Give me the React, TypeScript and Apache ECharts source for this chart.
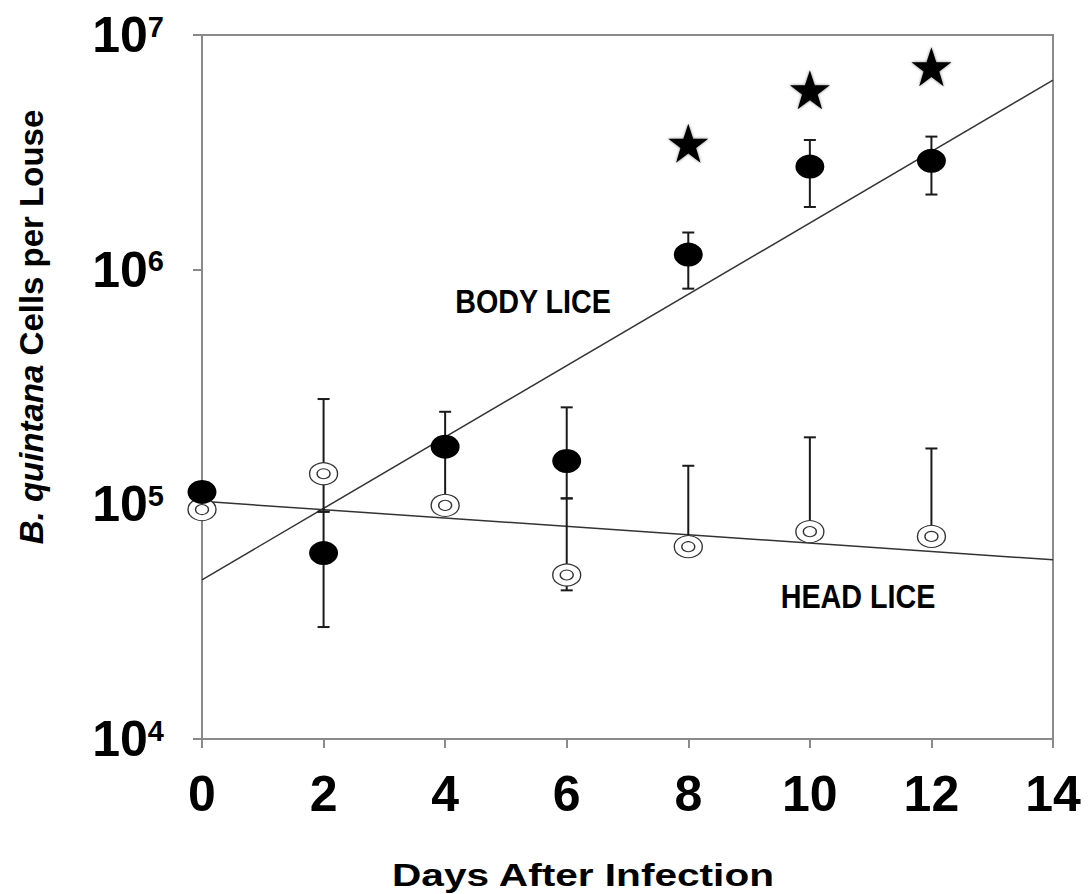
import React, { useEffect, useRef } from "react";
import * as echarts from "echarts";

const FONT = "'Liberation Sans', Arial, Helvetica, sans-serif";

// Days after infection
const days = [0, 2, 4, 6, 8, 10, 12];
// Body lice (filled circles)
const bodyLice = [1.13e5, 6.2e4, 1.76e5, 1.53e5, 1.16e6, 2.75e6, 2.91e6];
const bodyLow = [null, 3.0e4, 1.0e5, 1.06e5, 8.3e5, 1.85e6, 2.09e6];
const bodyHigh = [null, 9.3e4, 2.48e5, 2.59e5, 1.44e6, 3.57e6, 3.69e6];
// Head lice (open circles)
const headLice = [9.5e4, 1.35e5, 9.9e4, 5.0e4, 6.6e4, 7.65e4, 7.3e4];
const headLow = [null, 9.3e4, null, 4.3e4, null, null, null];
const headHigh = [null, 2.81e5, null, 1.06e5, 1.46e5, 1.93e5, 1.73e5];
// Significance stars
const starDays = [8, 10, 12];
const starValues = [3.46e6, 5.84e6, 7.33e6];
// Fitted trend lines
const fitDays = [0, 14];
const bodyFit = [4.77e4, 6.42e6];
const headFit = [1.03e5, 5.8e4];
// Axis ticks
const xTicks = [0, 2, 4, 6, 8, 10, 12, 14];
const yMin = 1e4;
const yMax = 1e7;

const STAR =
  "path://M50,0 L61.8,35.1 L98.1,35.1 L68.8,56.7 L79.4,91.3 L50,70 L20.6,91.3 L31.2,56.7 L1.9,35.1 L38.2,35.1 Z";

function errorSeries(values: number[], lows: (number | null)[], highs: (number | null)[], z: number) {
  return {
    type: "custom",
    z,
    silent: true,
    data: days.map((d, i) => [d, values[i]]),
    renderItem: (params: any, api: any) => {
      const i = params.dataIndex;
      const x = api.value(0);
      const v = api.value(1);
      const lo = lows[i];
      const hi = highs[i];
      if (lo == null && hi == null) return { type: "group", children: [] };
      const pLo = api.coord([x, lo ?? v]);
      const pHi = api.coord([x, hi ?? v]);
      const style = { stroke: "#1a1a1a", lineWidth: 2 };
      const children: any[] = [
        { type: "line", shape: { x1: pLo[0], y1: pLo[1], x2: pHi[0], y2: pHi[1] }, style },
      ];
      const cw = 6;
      if (lo != null)
        children.push({ type: "line", shape: { x1: pLo[0] - cw, y1: pLo[1], x2: pLo[0] + cw, y2: pLo[1] }, style });
      if (hi != null)
        children.push({ type: "line", shape: { x1: pHi[0] - cw, y1: pHi[1], x2: pHi[0] + cw, y2: pHi[1] }, style });
      return { type: "group", children };
    },
  };
}

export default function App() {
  const ref = useRef<HTMLDivElement>(null);
  useEffect(() => {
    if (!ref.current) return;
    const chart = echarts.init(ref.current, null, { renderer: "svg" });
    const axisGray = "#8a8a8a";
    chart.setOption({
      animation: false,
      backgroundColor: "#fff",
      grid: {
        left: 202,
        right: 36,
        top: 35,
        bottom: 155,
        show: true,
        borderColor: axisGray,
        borderWidth: 2,
      },
      xAxis: {
        type: "value",
        min: xTicks[0],
        max: xTicks[xTicks.length - 1],
        interval: 2,
        splitLine: { show: false },
        axisLine: { lineStyle: { color: axisGray, width: 2 } },
        axisTick: { show: true, length: 9, lineStyle: { color: axisGray, width: 2 } },
        axisLabel: {
          margin: 30,
          fontSize: 50,
          fontWeight: "bold",
          fontFamily: FONT,
          color: "#000",
        },
      },
      yAxis: {
        type: "log",
        logBase: 10,
        min: yMin,
        max: yMax,
        splitLine: { show: false },
        axisLine: { lineStyle: { color: axisGray, width: 2 } },
        axisTick: { show: true, length: 9, lineStyle: { color: axisGray, width: 2 } },
        axisLabel: {
          margin: 38,
          formatter: (v: number) => `{b|10}{s|${Math.round(Math.log10(v))}}`,
          rich: {
            b: { fontSize: 50, fontWeight: "bold", fontFamily: FONT, color: "#000" },
            s: { fontSize: 29, fontWeight: "bold", fontFamily: FONT, color: "#000", verticalAlign: "top", padding: [2, 0, 0, 0] },
          },
        },
      },
      series: [
        {
          type: "line",
          z: 1,
          silent: true,
          symbol: "none",
          data: fitDays.map((d, i) => [d, bodyFit[i]]),
          lineStyle: { color: "#333", width: 1.5 },
        },
        {
          type: "line",
          z: 1,
          silent: true,
          symbol: "none",
          data: fitDays.map((d, i) => [d, headFit[i]]),
          lineStyle: { color: "#333", width: 1.5 },
        },
        errorSeries(bodyLice, bodyLow, bodyHigh, 2),
        errorSeries(headLice, headLow, headHigh, 2),
        {
          type: "scatter",
          z: 3,
          symbol: "circle",
          symbolSize: [28, 22],
          data: days.map((d, i) => [d, headLice[i]]),
          itemStyle: { color: "#fff", borderColor: "#333", borderWidth: 1.2, opacity: 1 },
        },
        {
          type: "scatter",
          z: 4,
          symbol: "circle",
          symbolSize: [13, 10],
          data: days.map((d, i) => [d, headLice[i]]),
          itemStyle: { color: "#fff", borderColor: "#333", borderWidth: 1.2, opacity: 1 },
        },
        {
          type: "scatter",
          z: 5,
          symbol: "circle",
          symbolSize: [29, 24],
          data: days.map((d, i) => [d, bodyLice[i]]),
          itemStyle: { color: "#000", opacity: 1 },
        },
        {
          type: "scatter",
          z: 5,
          symbol: STAR,
          symbolSize: [40, 39],
          data: starDays.map((d, i) => [d, starValues[i]]),
          itemStyle: { color: "#000", opacity: 1, shadowBlur: 3, shadowColor: "rgba(0,0,0,0.5)" },
        },
      ],
      graphic: [
        {
          type: "text",
          x: 533,
          y: 302,
          scaleX: 0.87,
          style: {
            text: "BODY LICE",
            fontSize: 33,
            fontWeight: "bold",
            fontFamily: FONT,
            fill: "#000",
            align: "center",
            verticalAlign: "middle",
          },
        },
        {
          type: "text",
          x: 858,
          y: 597,
          scaleX: 0.87,
          style: {
            text: "HEAD LICE",
            fontSize: 33,
            fontWeight: "bold",
            fontFamily: FONT,
            fill: "#000",
            align: "center",
            verticalAlign: "middle",
          },
        },
        {
          type: "text",
          x: 583,
          y: 875,
          scaleX: 1.31,
          style: {
            text: "Days After Infection",
            fontSize: 31,
            fontWeight: "bold",
            fontFamily: FONT,
            fill: "#000",
            align: "center",
            verticalAlign: "middle",
          },
        },
        {
          type: "text",
          x: 31,
          y: 327,
          rotation: Math.PI / 2,
          style: {
            text: "{i|B. quintana} {n|Cells per Louse}",
            fontSize: 33,
            fontWeight: "bold",
            fontFamily: FONT,
            fill: "#000",
            align: "center",
            verticalAlign: "middle",
            rich: {
              i: { fontSize: 33, fontWeight: "bold", fontStyle: "italic", fontFamily: FONT, fill: "#000" },
              n: { fontSize: 33, fontWeight: "bold", fontFamily: FONT, fill: "#000" },
            },
          },
        },
      ],
    });
    return () => chart.dispose();
  }, []);
  return <div ref={ref} style={{ width: 1089, height: 894, position: "absolute", left: 0, top: 0 }} />;
}
